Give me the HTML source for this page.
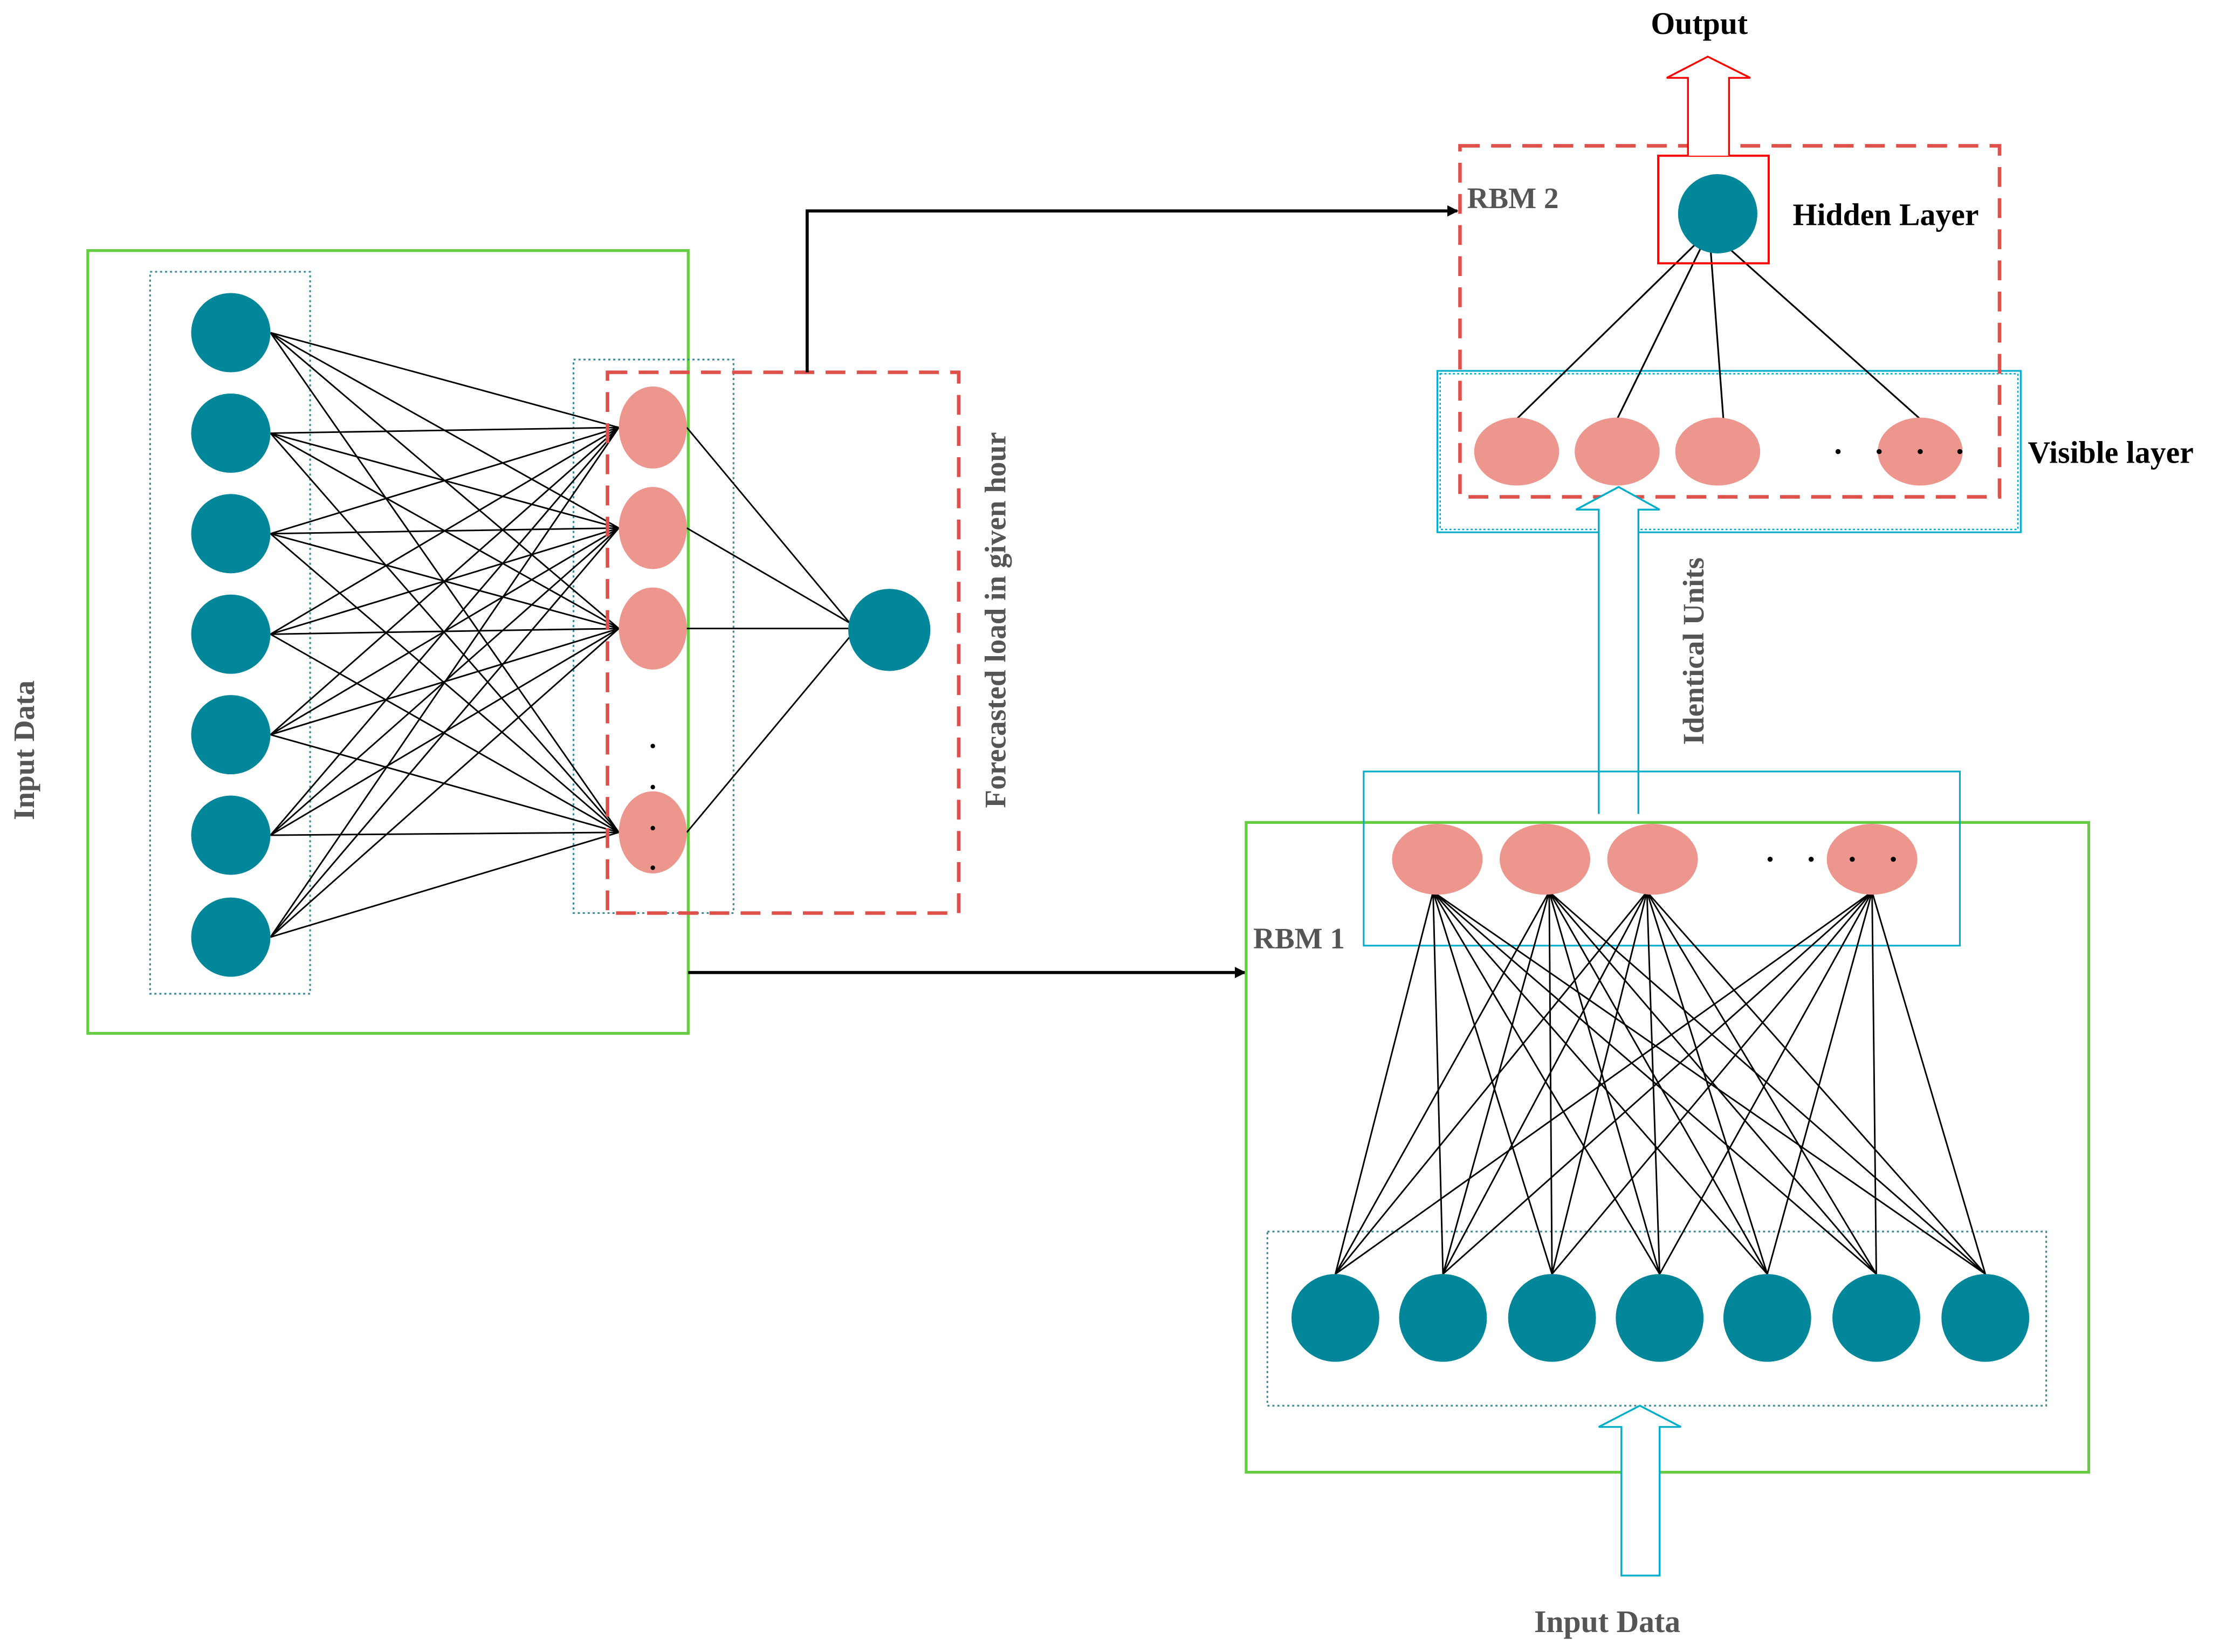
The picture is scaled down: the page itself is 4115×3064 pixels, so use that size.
<!DOCTYPE html>
<html><head><meta charset="utf-8"><style>html,body{margin:0;padding:0;background:#fff}svg{display:block}</style></head><body>
<svg width="4115" height="3064" viewBox="0 0 1567 1167" preserveAspectRatio="none" xmlns="http://www.w3.org/2000/svg" font-family="Liberation Serif, serif" font-weight="bold">
<defs>
<marker id="ah" markerWidth="8" markerHeight="8" refX="7" refY="4" orient="auto" markerUnits="userSpaceOnUse"><path d="M0,0 L8,4 L0,8 z" fill="#000"/></marker>
</defs>
<rect x="62" y="177" width="424" height="553" fill="none" stroke="#66cc44" stroke-width="2"/>
<rect x="106" y="192" width="113" height="510" fill="none" stroke="#3a8a9a" stroke-width="1.2" stroke-dasharray="1.5,2"/>
<rect x="405" y="254" width="113" height="391" fill="none" stroke="#3a8a9a" stroke-width="1.2" stroke-dasharray="1.5,2"/>
<g stroke="#000" stroke-width="1.1">
<path d="M191,235L437,302M191,235L437,373M191,235L437,444M191,235L437,588
M191,306L437,302M191,306L437,373M191,306L437,444M191,306L437,588
M191,377L437,302M191,377L437,373M191,377L437,444M191,377L437,588
M191,448L437,302M191,448L437,373M191,448L437,444M191,448L437,588
M191,519L437,302M191,519L437,373M191,519L437,444M191,519L437,588
M191,590L437,302M191,590L437,373M191,590L437,444M191,590L437,588
M191,662L437,302M191,662L437,373M191,662L437,444M191,662L437,588
M485,302L600,440M485,373L600,440M485,444L600,444M485,588L600,450"/>
</g>
<g fill="#02869a">
<circle cx="163" cy="235" r="28"/><circle cx="163" cy="306" r="28"/><circle cx="163" cy="377" r="28"/><circle cx="163" cy="448" r="28"/><circle cx="163" cy="519" r="28"/><circle cx="163" cy="590" r="28"/><circle cx="163" cy="662" r="28"/>
<circle cx="628" cy="445" r="29"/>
</g>
<g fill="#ec968e">
<ellipse cx="461" cy="302" rx="24" ry="29"/><ellipse cx="461" cy="373" rx="24" ry="29"/><ellipse cx="461" cy="444" rx="24" ry="29"/><ellipse cx="461" cy="588" rx="24" ry="29"/>
</g>
<g fill="#000"><circle cx="461" cy="527" r="1.6"/><circle cx="461" cy="556" r="1.6"/><circle cx="461" cy="585" r="1.6"/><circle cx="461" cy="613" r="1.6"/></g>
<rect x="429" y="263" width="248" height="382" fill="none" stroke="#e0504a" stroke-width="2.5" stroke-dasharray="14,8"/>
<text transform="translate(24,530) rotate(-90)" text-anchor="middle" font-size="21" fill="#555">Input Data</text>
<text transform="translate(710,438) rotate(-90)" text-anchor="middle" font-size="21" fill="#555">Forecasted load in given hour</text>
<path d="M570,263 L570,149 L1029,149" fill="none" stroke="#000" stroke-width="2.2" marker-end="url(#ah)"/>
<path d="M486,687 L879,687" fill="none" stroke="#000" stroke-width="2.2" marker-end="url(#ah)"/>
<rect x="1015" y="262" width="412" height="114" fill="none" stroke="#00aecb" stroke-width="1.2"/>
<rect x="1017" y="264" width="408" height="110" fill="none" stroke="#00aecb" stroke-width="1" stroke-dasharray="1.5,1.5"/>
<g stroke="#000" stroke-width="1.2"><path d="M1207,163L1071,296M1207,163L1142,296M1207,163L1217,296M1207,163L1356,296"/></g>
<g fill="#ec968e"><ellipse cx="1071" cy="319" rx="30" ry="24"/><ellipse cx="1142" cy="319" rx="30" ry="24"/><ellipse cx="1213" cy="319" rx="30" ry="24"/><ellipse cx="1356" cy="319" rx="30" ry="24"/></g>
<g fill="#000"><circle cx="1298" cy="319" r="1.8"/><circle cx="1327" cy="319" r="1.8"/><circle cx="1356" cy="319" r="1.8"/><circle cx="1384" cy="319" r="1.8"/></g>
<rect x="1031" y="103" width="381" height="248" fill="none" stroke="#e0504a" stroke-width="2.5" stroke-dasharray="14,8"/>
<rect x="1171" y="110" width="78" height="76" fill="none" stroke="#f00" stroke-width="1.5"/>
<circle cx="1213" cy="151" r="28" fill="#02869a"/>
<path d="M1192,110 L1192,55 L1177,55 L1206,40 L1236,55 L1221,55 L1221,110" fill="#fff" stroke="#f00" stroke-width="1.3"/>
<text x="1200" y="24" text-anchor="middle" font-size="22" fill="#000">Output</text>
<text x="1036" y="147" font-size="21" fill="#555">RBM 2</text>
<text x="1266" y="159" font-size="22" fill="#000">Hidden Layer</text>
<text x="1432" y="327" font-size="22" fill="#000">Visible layer</text>
<path d="M1129,575 L1129,360 L1113,360 L1143,344 L1172,360 L1157,360 L1157,575" fill="#fff" stroke="#00aecb" stroke-width="1.3"/>
<text transform="translate(1203,460) rotate(-90)" text-anchor="middle" font-size="21" fill="#555">Identical Units</text>
<rect x="880" y="581" width="595" height="459" fill="none" stroke="#66cc44" stroke-width="2"/>
<rect x="963" y="545" width="421" height="123" fill="none" stroke="#00aecb" stroke-width="1.2"/>
<rect x="895" y="870" width="550" height="123" fill="none" stroke="#3a8a9a" stroke-width="1.2" stroke-dasharray="1.5,2"/>
<g stroke="#000" stroke-width="1.1">
<path d="M1012,630L943,900M1012,630L1019,900M1012,630L1096,900M1012,630L1172,900M1012,630L1248,900M1012,630L1325,900M1012,630L1402,900
M1094,630L943,900M1094,630L1019,900M1094,630L1096,900M1094,630L1172,900M1094,630L1248,900M1094,630L1325,900M1094,630L1402,900
M1163,630L943,900M1163,630L1019,900M1163,630L1096,900M1163,630L1172,900M1163,630L1248,900M1163,630L1325,900M1163,630L1402,900
M1322,630L943,900M1322,630L1019,900M1322,630L1096,900M1322,630L1172,900M1322,630L1248,900M1322,630L1325,900M1322,630L1402,900"/>
</g>
<g fill="#ec968e"><ellipse cx="1015" cy="607" rx="32" ry="25"/><ellipse cx="1091" cy="607" rx="32" ry="25"/><ellipse cx="1167" cy="607" rx="32" ry="25"/><ellipse cx="1322" cy="607" rx="32" ry="25"/></g>
<g fill="#000"><circle cx="1250" cy="607" r="1.8"/><circle cx="1279" cy="607" r="1.8"/><circle cx="1308" cy="607" r="1.8"/><circle cx="1337" cy="607" r="1.8"/></g>
<g fill="#02869a"><circle cx="943" cy="931" r="31"/><circle cx="1019" cy="931" r="31"/><circle cx="1096" cy="931" r="31"/><circle cx="1172" cy="931" r="31"/><circle cx="1248" cy="931" r="31"/><circle cx="1325" cy="931" r="31"/><circle cx="1402" cy="931" r="31"/></g>
<text x="885" y="670" font-size="21" fill="#555">RBM 1</text>
<path d="M1145,1113 L1145,1008 L1129,1008 L1158,993 L1187,1008 L1172,1008 L1172,1113 Z" fill="#fff" stroke="#00aecb" stroke-width="1.3"/>
<text x="1135" y="1153" text-anchor="middle" font-size="22" fill="#555">Input Data</text>
</svg>
</body></html>
